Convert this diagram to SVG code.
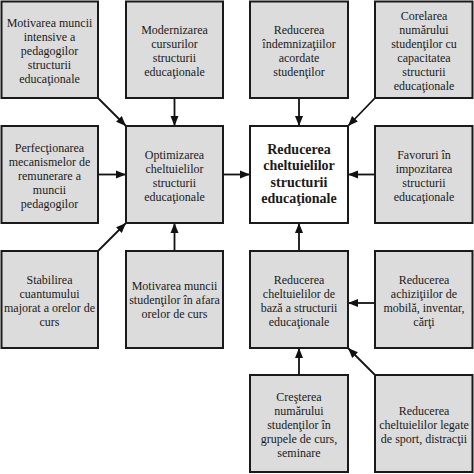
<svg xmlns="http://www.w3.org/2000/svg" width="474" height="474" viewBox="0 0 474 474">
<defs>
<style>
.box{fill:#dcdcdc;stroke:#1a1a1a;stroke-width:2}
.main{fill:#ffffff;stroke:#1a1a1a;stroke-width:2}
text{font-family:"Liberation Serif","Times New Roman",serif;font-size:12px;fill:#1a1a1a;text-anchor:middle}
.b{font-weight:bold;font-size:14px}
.c{stroke:#111;stroke-width:1.8;fill:none;marker-end:url(#ah)}
</style>
<marker id="ah" markerUnits="userSpaceOnUse" markerWidth="10" markerHeight="10" viewBox="0 0 10 10" refX="10" refY="5" orient="auto">
<path d="M0,1 L10,5 L0,9 Z" fill="#111"/>
</marker>
</defs>
<rect width="474" height="474" fill="#ffffff"/>

<g id="connectors">
<line class="c" x1="98" y1="98" x2="126" y2="126"/>
<line class="c" x1="174.5" y1="98" x2="174.5" y2="126"/>
<line class="c" x1="98" y1="174.5" x2="126" y2="174.5"/>
<line class="c" x1="98" y1="251" x2="126" y2="223"/>
<line class="c" x1="174.5" y1="251" x2="174.5" y2="223"/>
<line class="c" x1="223" y1="174.5" x2="250" y2="174.5"/>
<line class="c" x1="299" y1="98" x2="299" y2="126"/>
<line class="c" x1="375" y1="98" x2="348" y2="126"/>
<line class="c" x1="375" y1="174.5" x2="348" y2="174.5"/>
<line class="c" x1="299" y1="251" x2="299" y2="223"/>
<line class="c" x1="375" y1="303" x2="348" y2="303"/>
<line class="c" x1="299" y1="375" x2="299" y2="348"/>
<line class="c" x1="375" y1="375" x2="348" y2="348"/>
</g>

<g id="n1">
<rect class="box" x="1.5" y="1.5" width="96.5" height="96.5"/>
<text x="49.5" y="26.5">Motivarea muncii</text>
<text x="49.5" y="40.5">intensive a</text>
<text x="49.5" y="54.5">pedagogilor</text>
<text x="49.5" y="68.5">structurii</text>
<text x="49.5" y="82.5">educaţionale</text>
</g>

<g id="n2">
<rect class="box" x="126" y="1.5" width="97" height="96.5"/>
<text x="174.5" y="33.5">Modernizarea</text>
<text x="174.5" y="47.5">cursurilor</text>
<text x="174.5" y="61.5">structurii</text>
<text x="174.5" y="75.5">educaţionale</text>
</g>

<g id="n3">
<rect class="box" x="250" y="1.5" width="98" height="96.5"/>
<text x="299" y="33.5">Reducerea</text>
<text x="299" y="47.5">îndemnizaţiilor</text>
<text x="299" y="61.5">acordate</text>
<text x="299" y="75.5">studenţilor</text>
</g>

<g id="n4">
<rect class="box" x="375" y="1.5" width="97.5" height="96.5"/>
<text x="424" y="19.5">Corelarea</text>
<text x="424" y="33.5">numărului</text>
<text x="424" y="47.5">studenţilor cu</text>
<text x="424" y="61.5">capacitatea</text>
<text x="424" y="75.5">structurii</text>
<text x="424" y="89.5">educaţionale</text>
</g>

<g id="n5">
<rect class="box" x="1.5" y="126" width="96.5" height="97"/>
<text x="49.5" y="151.5">Perfecţionarea</text>
<text x="49.5" y="165.5">mecanismelor de</text>
<text x="49.5" y="179.5">remunerare a</text>
<text x="49.5" y="193.5">muncii</text>
<text x="49.5" y="207.5">pedagogilor</text>
</g>

<g id="n6">
<rect class="box" x="126" y="126" width="97" height="97"/>
<text x="174.5" y="158.5">Optimizarea</text>
<text x="174.5" y="172.5">cheltuielilor</text>
<text x="174.5" y="186.5">structurii</text>
<text x="174.5" y="200.5">educaţionale</text>
</g>

<g id="n7">
<rect class="main" x="250" y="126" width="98" height="97"/>
<text class="b" x="299" y="154">Reducerea</text>
<text class="b" x="299" y="170.3">cheltuielilor</text>
<text class="b" x="299" y="186.6">structurii</text>
<text class="b" x="299" y="202.9">educaţionale</text>
</g>

<g id="n8">
<rect class="box" x="375" y="126" width="97.5" height="97"/>
<text x="424" y="158.5">Favoruri în</text>
<text x="424" y="172.5">impozitarea</text>
<text x="424" y="186.5">structurii</text>
<text x="424" y="200.5">educaţionale</text>
</g>

<g id="n9">
<rect class="box" x="1.5" y="251" width="96.5" height="97"/>
<text x="49.5" y="283.5">Stabilirea</text>
<text x="49.5" y="297.5">cuantumului</text>
<text x="49.5" y="311.5">majorat a orelor de</text>
<text x="49.5" y="325.5">curs</text>
</g>

<g id="n10">
<rect class="box" x="126" y="251" width="97" height="97"/>
<text x="174.5" y="290">Motivarea muncii</text>
<text x="174.5" y="304">studenţilor în afara</text>
<text x="174.5" y="318">orelor de curs</text>
</g>

<g id="n11">
<rect class="box" x="250" y="251" width="98" height="97"/>
<text x="299" y="283.5">Reducerea</text>
<text x="299" y="297.5">cheltuielilor de</text>
<text x="299" y="311.5">bază a structurii</text>
<text x="299" y="325.5">educaţionale</text>
</g>

<g id="n12">
<rect class="box" x="375" y="251" width="97.5" height="97"/>
<text x="424" y="283.5">Reducerea</text>
<text x="424" y="297.5">achiziţiilor de</text>
<text x="424" y="311.5">mobilă, inventar,</text>
<text x="424" y="325.5">cărţi</text>
</g>

<g id="n13">
<rect class="box" x="250" y="375" width="98" height="97"/>
<text x="299" y="400.5">Creşterea</text>
<text x="299" y="414.5">numărului</text>
<text x="299" y="428.5">studenţilor în</text>
<text x="299" y="442.5">grupele de curs,</text>
<text x="299" y="456.5">seminare</text>
</g>

<g id="n14">
<rect class="box" x="375" y="375" width="97.5" height="97"/>
<text x="424" y="414.5">Reducerea</text>
<text x="424" y="428.5">cheltuielilor legate</text>
<text x="424" y="442.5">de sport, distracţii</text>
</g>
</svg>
